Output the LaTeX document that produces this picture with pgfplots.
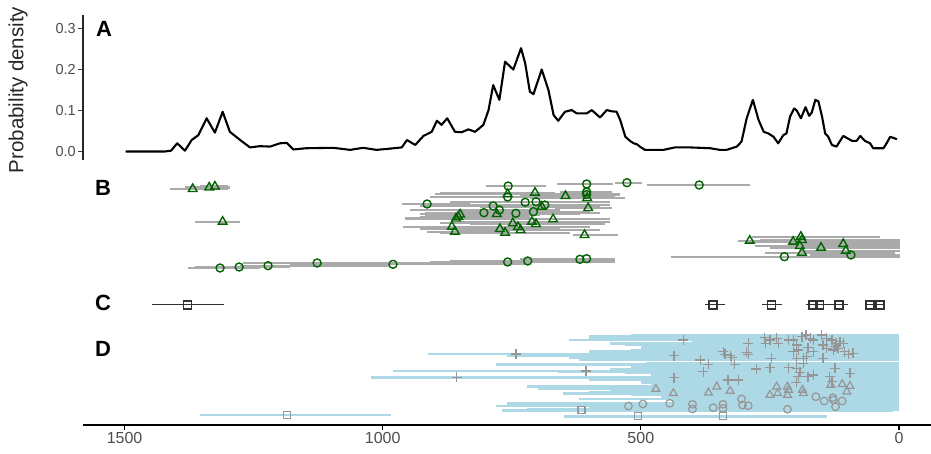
\documentclass[border=0pt]{standalone}
\usepackage{fontspec}
\setmainfont{Liberation Sans}
\usepackage{pgfplots}
\pgfplotsset{compat=1.18}
\usepackage{pgfplotstable}

\definecolor{dgreen}{RGB}{0,100,0}
\definecolor{bargray}{RGB}{170,170,170}
\definecolor{lblue}{RGB}{173,216,230}
\definecolor{mgray}{RGB}{150,150,150}
\definecolor{tickgray}{RGB}{77,77,77}
\definecolor{cdark}{RGB}{50,50,50}

\pgfplotstableread{
x y
1498 0
1422 0
1410 0.002
1398 0.02
1383 0.002
1370 0.028
1357 0.04
1341 0.081
1325 0.046
1310 0.097
1296 0.048
1276 0.028
1257 0.010
1238 0.013
1218 0.012
1199 0.02
1186 0.021
1173 0.005
1148 0.008
1096 0.009
1063 0.004
1038 0.009
1012 0.004
986 0.007
963 0.01
953 0.028
937 0.016
921 0.038
905 0.048
895 0.075
886 0.065
875 0.081
860 0.048
847 0.047
834 0.054
821 0.048
805 0.065
795 0.101
786 0.162
774 0.126
763 0.219
747 0.2
732 0.252
724 0.215
715 0.146
708 0.14
692 0.2
679 0.15
669 0.089
660 0.075
647 0.097
634 0.101
624 0.093
605 0.093
595 0.101
579 0.083
566 0.101
556 0.098
547 0.097
540 0.077
530 0.036
521 0.026
514 0.02
508 0.018
502 0.012
492 0.004
456 0.004
434 0.010
405 0.010
366 0.008
347 0.004
334 0.004
314 0.012
305 0.024
295 0.081
283 0.126
272 0.077
262 0.048
253 0.044
243 0.036
234 0.02
224 0.04
218 0.044
211 0.085
203 0.105
198 0.1
190 0.081
181 0.108
174 0.087
169 0.095
162 0.126
156 0.122
149 0.085
143 0.044
137 0.036
130 0.016
121 0.012
108 0.038
91 0.026
82 0.026
75 0.038
66 0.026
56 0.02
50 0.008
30 0.008
24 0.02
17 0.036
4 0.03
}\tbA

\pgfplotstableread{
x y lo hi
1315 157 1238 1377
1278 158 1180 1364
1222 159.3 986 1276
1127 162 908 1271
980 160.7 715 1180
758 163 550 908
719 164 550 870
618 165.7 550 666
605 166.3 550 734
222 168.3 -2 442
757 239 684 800
605 241 554 662
527 242.3 498 550
387 240 289 488
758 228 628 908
605 233 556 657
605 230.5 540 695
914 221 831 963
724 222.7 579 870
703 223.3 560 831
786 219 637 928
774 215 657 947
804 212.3 657 918
742 211.7 579 908
708 213.3 598 850
686 220 560 831
93 170 -2 172
}\tbBc

\pgfplotstableread{
x y lo hi
1368 236 1300 1412
1336 237.5 1296 1383
1325 238.5 1300 1354
1310 203.3 1276 1364
705 232.3 666 889
758 231 657 899
646 229 550 734
604 227 531 715
602 217 556 666
779 211 618 928
692 218.3 579 812
670 205.7 560 928
854 208.3 715 928
850 210.5 695 918
858 206.5 753 957
866 198.3 773 961
860 193.3 753 914
748 201.7 628 889
773 196 657 928
763 192.3 637 889
738 198 598 870
733 195 579 860
711 203.3 560 850
703 201 569 831
609 190 544 631
289 184.3 -2 312
205 183.3 -2 298
190 188.3 37 285
188 185 -2 269
192 179 -2 279
188 172.3 8 260
151 177.3 -2 250
108 181 -2 211
103 174.3 -2 192
}\tbBt

\pgfplotstableread{
x y lo hi
1378 120 1307 1447
360 120 337 376
247 120 227 266
166 120 150 180
154 120 135 175
116 120 98 136
56 120 45 66
37 120 30 45
}\tbC

\pgfplotstableread{
x y lo hi
418 85 0 640
292 81.7 0 560
260 87.3 0 600
258 81.7 0 520
250 85 0 610
237 86.7 0 580
234 81.7 0 500
214 85 0 560
205 85 0 470
198 80 0 530
188 88.3 0 600
180 90 0 520
172 86.7 0 480
166 85 0 540
150 90 0 460
147 80 0 420
140 86.7 0 500
130 85 0 440
127 75 0 470
124 78.3 0 420
121 81.7 0 390
118 76.7 0 450
114 83.3 0 400
108 81.7 0 380
105 73.3 0 430
436 69.3 0 700
340 73.3 0 600
337 70.7 0 560
327 69.3 0 760
324 67.3 0 640
295 72.7 0 580
292 70.7 0 500
247 66.7 0 540
205 73.3 0 470
195 75 0 520
198 66.7 0 480
185 66.7 0 560
179 68.3 0 450
176 77.3 0 500
166 73.3 0 430
147 66.7 0 460
140 76.7 0 410
98 70.7 0 380
89 71.7 0 360
385 65 0 620
369 60.7 0 780
318 60.7 0 560
379 53.3 0 660
276 56 0 560
250 57.3 0 520
214 57.3 0 500
198 56.7 0 470
192 52.7 0 530
195 48.3 0 450
185 61.7 0 490
176 48.3 0 440
166 50 0 480
134 48.3 0 400
124 56.7 0 430
95 51.7 0 370
436 47.3 0 720
331 45 0 600
311 45 0 540
199 42.7 0 500
130 43.3 0 420
606 54 450 980
742 71 560 912
857 47.7 579 1023
}\tbDp

\pgfplotstableread{
x y lo hi
471 36 0 700
437 31.7 0 650
369 32.3 0 600
353 38.3 0 720
327 34 0 560
250 30 0 520
237 38.3 0 540
235 31.7 0 480
216 38.3 0 600
214 35 0 500
216 30 0 460
187 35 0 520
185 31.7 0 440
132 40 0 480
110 40.7 0 400
101 33.3 0 420
95 39 0 380
}\tbDt

\pgfplotstableread{
x y lo hi
524 19 0 780
496 21 0 700
444 21.7 0 760
400 20.7 0 640
400 16 0 720
360 17.3 0 600
341 20.7 0 660
341 16.7 0 580
305 26 0 620
303 20 0 540
292 19.3 0 560
216 15.7 0 500
161 28.3 0 460
145 24 0 440
128 27.3 0 420
127 25 0 400
123 18.3 0 470
110 24 0 380
}\tbDc

\pgfplotstableread{
x y lo hi
615 14.7 12 769
506 8.7 139 649
341 9 150 560
1185 10 984 1354
}\tbDs

\pgfplotsset{
  errbar/.style n args={2}{draw=none, mark=none, forget plot,
    error bars/.cd, x dir=both, x explicit, error mark=none,
    error bar style={draw=#2, line width=#1, solid}},
  hollow/.style n args={4}{only marks, forget plot, mark=#1, mark size=#2, color=#3,
    mark options={fill=none, draw=#3, line width=#4, solid}},
}

\begin{document}
\begin{tikzpicture}[x=1pt,y=1pt]
\useasboundingbox (0,0) rectangle (931,454);

% Panel A
\begin{axis}[
  at={(83pt,294pt)}, anchor=south west,
  scale only axis, width=848pt, height=145pt,
  x dir=reverse, xmin=-62, xmax=1580.5,
  ymin=-0.0207, ymax=0.333,
  axis x line=none, axis y line*=left,
  y axis line style={line width=1.3pt, color=black!85, -},
  ytick={0,0.1,0.2,0.3},
  yticklabel style={/pgf/number format/.cd, fixed, fixed zerofill, precision=1, /tikz/.cd,
    font=\fontsize{14.5}{17}\selectfont, color=tickgray, inner sep=2pt},
  /pgf/number format/assume math mode=true,
  tick align=outside, major tick length=5pt,
  y tick style={line width=1.2pt, color=black!75},
  clip=false,
]
\addplot[black, line width=2.1pt, line join=round, mark=none] table[x=x,y=y] {\tbA};
\end{axis}

% Panels B, C, D
\begin{axis}[
  at={(83pt,29pt)}, anchor=south west,
  scale only axis, width=848pt, height=250pt,
  x dir=reverse, xmin=-62, xmax=1580.5,
  ymin=0, ymax=250,
  axis x line*=bottom, axis y line=none,
  x axis line style={line width=1.6pt, color=black, -},
  xtick={0,500,1000,1500},
  xticklabel style={/pgf/number format/.cd, 1000 sep={}, /tikz/.cd,
    font=\fontsize{16}{19}\selectfont, color=tickgray, inner sep=2pt},
  /pgf/number format/assume math mode=true,
  tick align=outside, major tick length=5pt,
  x tick style={line width=1.2pt, color=black},
  clip=false,
]
% B bars
\addplot[errbar={2.2pt}{bargray}] table[x=x, y=y,
  x error plus expr=\thisrow{hi}-\thisrow{x}, x error minus expr=\thisrow{x}-\thisrow{lo}] {\tbBc};
\addplot[errbar={2.2pt}{bargray}] table[x=x, y=y,
  x error plus expr=\thisrow{hi}-\thisrow{x}, x error minus expr=\thisrow{x}-\thisrow{lo}] {\tbBt};
% B marks
\addplot[hollow={o}{4pt}{dgreen}{1.4pt}] table[x=x,y=y] {\tbBc};
\addplot[hollow={triangle}{5pt}{dgreen}{1.4pt}] table[x=x,y=y] {\tbBt};

% C
\addplot[errbar={1pt}{cdark}] table[x=x, y=y,
  x error plus expr=\thisrow{hi}-\thisrow{x}, x error minus expr=\thisrow{x}-\thisrow{lo}] {\tbC};
\addplot[hollow={square}{4pt}{cdark}{1.8pt}] table[x=x,y=y] {\tbC};

% D bars
\addplot[errbar={2.8pt}{lblue}] table[x=x, y=y,
  x error plus expr=\thisrow{hi}-\thisrow{x}, x error minus expr=\thisrow{x}-\thisrow{lo}] {\tbDp};
\addplot[errbar={2.8pt}{lblue}] table[x=x, y=y,
  x error plus expr=\thisrow{hi}-\thisrow{x}, x error minus expr=\thisrow{x}-\thisrow{lo}] {\tbDt};
\addplot[errbar={2.8pt}{lblue}] table[x=x, y=y,
  x error plus expr=\thisrow{hi}-\thisrow{x}, x error minus expr=\thisrow{x}-\thisrow{lo}] {\tbDc};
\addplot[errbar={2.8pt}{lblue}] table[x=x, y=y,
  x error plus expr=\thisrow{hi}-\thisrow{x}, x error minus expr=\thisrow{x}-\thisrow{lo}] {\tbDs};
% D marks
\addplot[hollow={+}{5pt}{mgray}{1.3pt}] table[x=x,y=y] {\tbDp};
\addplot[hollow={triangle}{4.5pt}{mgray}{1.2pt}] table[x=x,y=y] {\tbDt};
\addplot[hollow={o}{3.8pt}{mgray}{1.2pt}] table[x=x,y=y] {\tbDc};
\addplot[hollow={square}{3.5pt}{mgray}{1.2pt}] table[x=x,y=y] {\tbDs};
\end{axis}

% labels
\node[rotate=90, font=\fontsize{20.5}{24}\selectfont, text=black!85] at (18pt,364pt) {Probability density};
\node[font=\fontsize{22}{26}\selectfont\bfseries] at (104pt,425pt) {A};
\node[font=\fontsize{22}{26}\selectfont\bfseries] at (103pt,266pt) {B};
\node[font=\fontsize{22}{26}\selectfont\bfseries] at (103pt,151pt) {C};
\node[font=\fontsize{22}{26}\selectfont\bfseries] at (103pt,105pt) {D};
\end{tikzpicture}
\end{document}
